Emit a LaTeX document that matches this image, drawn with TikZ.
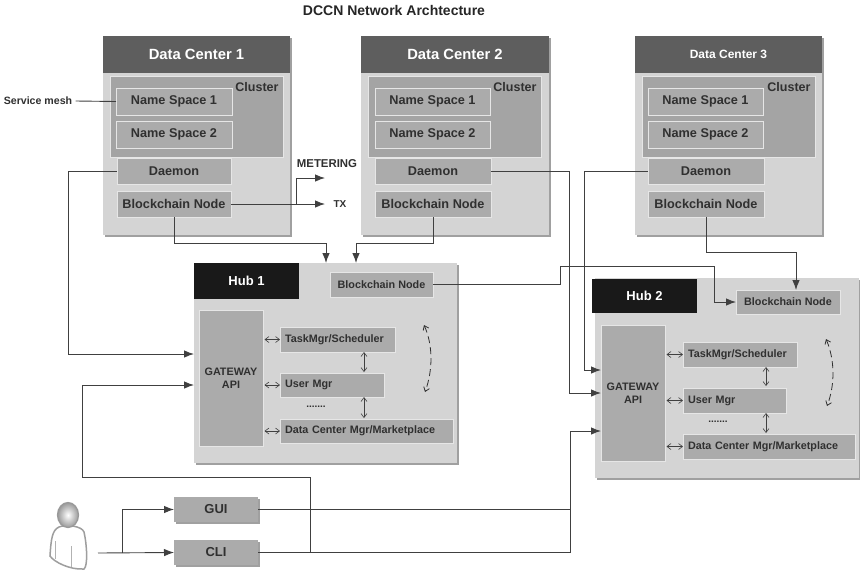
\documentclass[tikz,border=0pt]{standalone}
\usepackage{fontspec}
\setmainfont{Liberation Sans}
\usetikzlibrary{arrows.meta,calc}
\definecolor{hdr}{HTML}{5E5E5E}
\definecolor{pane}{HTML}{D4D4D4}
\definecolor{clu}{HTML}{A4A4A4}
\definecolor{cell}{HTML}{ABABAB}
\definecolor{edge}{HTML}{E6E6E6}
\definecolor{txt}{HTML}{303030}
\definecolor{ln}{HTML}{404040}
\definecolor{shd}{HTML}{A0A0A0}
\newcommand{\bx}[7][]{%
  \pgfmathsetmacro{\cxx}{(#3+#5)/2}\pgfmathsetmacro{\cyy}{(#4+#6)/2}%
  \pgfmathsetmacro{\ww}{#5-#3}\pgfmathsetmacro{\hh}{#6-#4}%
  \node[minimum width=\ww pt,minimum height=\hh pt,inner sep=0pt,outer sep=0pt,#1] (#2) at (\cxx,\cyy) {#7};}
\tikzset{
  x=1pt,y=-1pt,
  every node/.style={font=\bfseries,text=txt},
  shadowed/.style={preaction={draw=none,fill=shd,transform canvas={shift={(1.5pt,-2pt)}}}},
  panebox/.style={fill=pane,shadowed},
  hdrbox/.style={fill=hdr,text=white,font=\bfseries\fontsize{14.8}{16}\selectfont},
  hdrsmall/.style={fill=hdr,text=white,font=\bfseries\fontsize{12}{14}\selectfont},
  hubhdr/.style={fill=black!90,text=white,font=\bfseries\fontsize{13}{15}\selectfont},
  clusterbox/.style={fill=clu,draw=edge,line width=.8pt},
  cellbox/.style={fill=cell,draw=edge,line width=.8pt,font=\bfseries\fontsize{12.7}{14}\selectfont},
  hubcell/.style={fill=cell,draw=edge,line width=.8pt,font=\bfseries\fontsize{10.8}{12.5}\selectfont},
  leftcell/.style={hubcell,align=left},
  extbox/.style={fill=cell,shadowed,font=\bfseries\fontsize{13}{15}\selectfont},
  lbl/.style={font=\bfseries\fontsize{10}{12}\selectfont},
  clab/.style={font=\bfseries\fontsize{12.5}{14}\selectfont},
  conn/.style={draw=ln,line width=.9pt},
  arr/.style={conn,-{Latex[length=10pt,width=7.5pt]}},
  dbl/.style={draw=ln,line width=.6pt,{Straight Barb[length=4pt,width=6pt]}-{Straight Barb[length=4pt,width=6pt]}},
  cyc/.style={draw=txt,line width=.8pt,dashed,dash pattern=on 7pt off 4pt,{Straight Barb[length=4pt,width=6pt]}-{Straight Barb[length=4pt,width=6pt]}},
}
\begin{document}
\begin{tikzpicture}
\useasboundingbox (0,0) rectangle (860,571);
\fill[white] (0,0) rectangle (860,571);
\node[font=\bfseries\fontsize{14}{16}\selectfont,text=black!85] (title) at (394,10) {DCCN Network Archtecture};

% Data centers
\bx[panebox]{dc1}{103}{36}{290}{235}{}
\bx[hdrbox]{dc1h}{103}{36}{290}{73}{Data Center 1}
\bx[clusterbox]{cl1}{110}{76}{283}{157}{}
\node[clab] (cl1t) at (257,87) {Cluster};
\bx[cellbox]{ns11}{116}{88}{232}{115}{\raisebox{-1pt}{Name Space 1}}
\bx[cellbox]{ns12}{116}{121}{232}{148}{\raisebox{-1pt}{Name Space 2}}
\bx[cellbox]{dm1}{117}{158}{231}{184}{Daemon}
\bx[cellbox]{bc1}{117}{191}{231}{217}{Blockchain Node}

\bx[panebox]{dc2}{361}{36}{549}{235}{}
\bx[hdrbox]{dc2h}{361}{36}{549}{73}{Data Center 2}
\bx[clusterbox]{cl2}{368}{76}{541}{157}{}
\node[clab] (cl2t) at (515,87) {Cluster};
\bx[cellbox]{ns21}{375}{88}{490}{115}{\raisebox{-1pt}{Name Space 1}}
\bx[cellbox]{ns22}{375}{121}{490}{148}{\raisebox{-1pt}{Name Space 2}}
\bx[cellbox]{dm2}{375}{158}{491}{184}{Daemon}
\bx[cellbox]{bc2}{375}{191}{491}{217}{Blockchain Node}

\bx[panebox]{dc3}{635}{36}{822}{235}{}
\bx[hdrsmall]{dc3h}{635}{36}{822}{73}{Data Center 3}
\bx[clusterbox]{cl3}{642}{76}{815}{157}{}
\node[clab] (cl3t) at (789,87) {Cluster};
\bx[cellbox]{ns31}{648}{88}{763}{115}{\raisebox{-1pt}{Name Space 1}}
\bx[cellbox]{ns32}{648}{121}{763}{148}{\raisebox{-1pt}{Name Space 2}}
\bx[cellbox]{dm3}{648}{158}{764}{184}{Daemon}
\bx[cellbox]{bc3}{648}{191}{764}{217}{Blockchain Node}

% Hubs
\bx[panebox]{hub1}{194}{263}{457}{463}{}
\bx[hubhdr]{hub1h}{194}{263}{299}{299}{Hub 1}
\bx[hubcell]{hbc1}{330}{272}{433}{297}{Blockchain Node}
\bx[hubcell,align=center]{gw1}{199}{310}{263}{446}{GATEWAY\\API}
\bx[leftcell,text width=105pt]{tm1}{280}{327}{395}{352}{TaskMgr/Scheduler}
\bx[leftcell,text width=94pt]{um1}{280}{373}{384}{397}{User Mgr}
\bx[leftcell,text width=163pt]{dcm1}{280}{419}{453}{443}{Data Center Mgr/Marketplace}
\node[lbl] (dots1) at (316,407) {.......};

\bx[panebox]{hub2}{595}{278}{859}{478}{}
\bx[hubhdr]{hub2h}{592}{279}{697}{313}{Hub 2}
\bx[hubcell]{hbc2}{736}{290}{840}{314}{Blockchain Node}
\bx[hubcell,align=center]{gw2}{601}{325}{665}{461}{GATEWAY\\API}
\bx[leftcell,text width=104pt]{tm2}{683}{342}{797}{367}{TaskMgr/Scheduler}
\bx[leftcell,text width=93pt]{um2}{683}{388}{786}{413}{User Mgr}
\bx[leftcell,text width=162pt]{dcm2}{683}{434}{855}{459}{Data Center Mgr/Marketplace}
\node[lbl] (dots2) at (718,422) {.......};

% Clients
\bx[extbox]{gui}{174}{497}{258}{522}{GUI}
\bx[extbox]{cli}{174}{540}{258}{565}{CLI}

% Free labels
\node[font=\bfseries\fontsize{10.6}{12}\selectfont] (sm) at (38,101) {Service mesh};
\node[font=\bfseries\fontsize{11.4}{13}\selectfont] (met) at (327,164) {METERING};
\node[lbl] (tx) at (340,204) {TX};
\coordinate (metend) at (325,178);
\coordinate (txend) at (325,204);

% Person
\coordinate (person) at (98,553);
\draw[draw=black!38,line width=1.5pt,fill=white] (59,527) .. controls (52,530) and (51,540) .. (50,556)
  .. controls (54,562) and (70,570) .. (84,569) .. controls (88,566) and (87,545) .. (84,532)
  .. controls (82,526) and (66,524) .. (59,527) -- cycle;
\draw[draw=black!30,line width=.7pt] (55,541) -- (55,559) (71,546) -- (71,567);
\shade[inner color=white,outer color=black!40,draw=black!40,line width=1.2pt] (68,515) ellipse (10.5 and 12.5);

% Connectors
\draw[conn] (sm.east) -- (ns11.west);

\coordinate (j1) at (68,354);
\draw[arr] (dm1.west) -| (j1) -- (j1 -| hub1.west);
\coordinate (j2) at (296,204);
\draw[arr] (bc1.east) -- (txend);
\draw[arr] (j2) |- (metend);
\coordinate (j3) at (326,243);
\draw[arr] (bc1.south) |- (j3) -- (j3 |- hub1.north);
\coordinate (j4) at (356,243);
\draw[arr] (bc2.south) |- (j4) -- (j4 |- hub1.north);

\coordinate (j5) at (569,393);
\draw[arr] (dm2.east) -| (j5) -- (j5 -| gw2.west);
\coordinate (j6) at (584,370);
\draw[arr] (dm3.west) -| (j6) -- (j6 -| gw2.west);
\coordinate (j7) at (796,252);
\draw[arr] (bc3.south) |- (j7) -- (j7 |- hbc2.north);
\coordinate (j8) at (560,266);
\coordinate (j9) at (714,266);
\draw[arr] (hbc1.east) -| (j8) -- (j9) |- (hbc2.west);

\coordinate (j10) at (570,431);
\draw[conn] (gui.east) -| (j10);
\draw[arr] (cli.east) -| (j10) -- (j10 -| gw2.west);
\coordinate (j11) at (310,477);
\coordinate (j12) at (82,477);
\coordinate (j13) at (82,385);
\draw[arr] (cli.east -| j11) -- (j11) -- (j12) -- (j13) -- (j13 -| hub1.west);

\draw[arr] (person) -- (cli.west);
\coordinate (j14) at (122,553);
\draw[arr] (j14) |- (gui.west);

% Small double arrows, hub 1
\draw[dbl] (gw1.east |- tm1.west) ++(1.5,0) -- (tm1.west);
\draw[dbl] (gw1.east |- um1.west) ++(1.5,0) -- (um1.west);
\draw[dbl] (gw1.east |- dcm1.west) ++(1.5,0) -- (dcm1.west);
\coordinate (v1) at (364,350);
\draw[dbl] (v1 |- tm1.south) -- (v1 |- 0,372);
\draw[dbl] (v1 |- um1.south) -- (v1 |- 0,418);
% hub 2
\draw[dbl] (gw2.east |- tm2.west) ++(1.5,0) -- (tm2.west);
\draw[dbl] (gw2.east |- um2.west) ++(1.5,0) -- (um2.west);
\draw[dbl] (gw2.east |- dcm2.west) ++(1.5,0) -- (dcm2.west);
\coordinate (v2) at (766,350);
\draw[dbl] (v2 |- tm2.south) -- (v2 |- 0,386);
\draw[dbl] (v2 |- um2.south) -- (v2 |- 0,433);
% cycle arrows
\coordinate (c1a) at (424,325);
\coordinate (c1b) at (425,392);
\draw[cyc] (c1a) .. controls (433,345) and (433,370) .. (c1b);
\coordinate (c2a) at (826,339);
\coordinate (c2b) at (827,406);
\draw[cyc] (c2a) .. controls (835,360) and (835,385) .. (c2b);
\end{tikzpicture}
\end{document}
